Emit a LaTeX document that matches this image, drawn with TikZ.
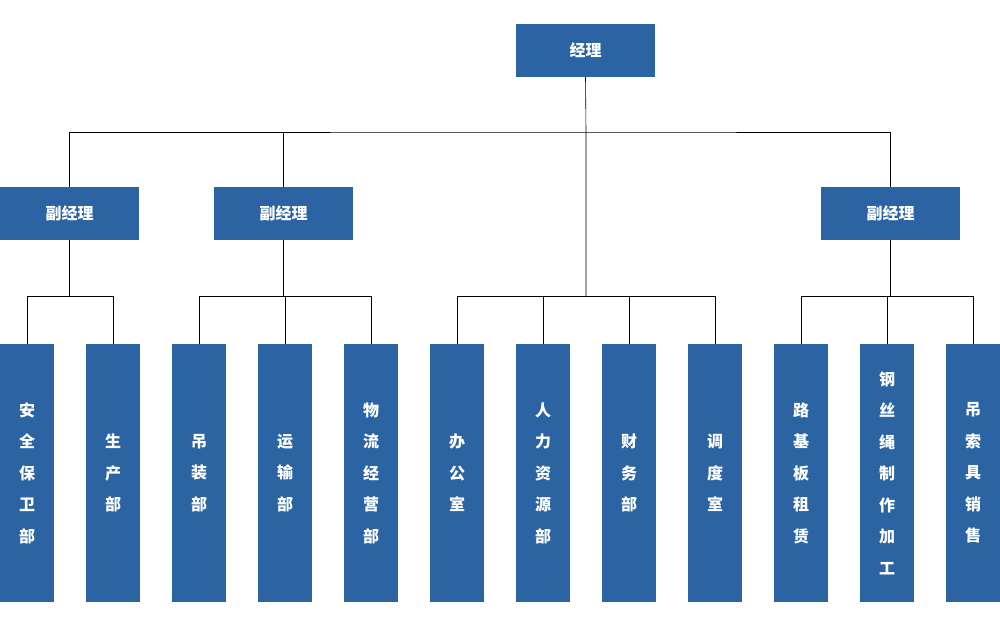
\documentclass[tikz,border=0pt]{standalone}
\usepackage{fontspec}
\newfontfamily\cjk{Noto Sans CJK SC}
\definecolor{boxblue}{HTML}{2B63A3}
\begin{document}
\begin{tikzpicture}[x=1pt,y=-1pt,
  box/.style={fill=boxblue,text=white,font=\cjk\bfseries\fontsize{16}{31.5}\selectfont,inner sep=0pt,align=center},
  head/.style={box,minimum width=139pt,minimum height=53pt},
  col/.style={box,minimum width=54pt,minimum height=258pt},
  ln/.style={draw=black,line width=0.6pt}]
\useasboundingbox (0,0) rectangle (1000,624);
\node[head] (m) at (585.5,50.5) {经理};
\node[head] (d1) at (69.5,213.5) {副经理};
\node[head] (d2) at (283.5,213.5) {副经理};
\node[head] (d3) at (890.5,213.5) {副经理};
\foreach \i/\t in {0/{安\\全\\保\\卫\\部},1/{生\\产\\部},2/{吊\\装\\部},3/{运\\输\\部},4/{物\\流\\经\\营\\部},5/{办\\公\\室},6/{人\\力\\资\\源\\部},7/{财\\务\\部},8/{调\\度\\室},9/{路\\基\\板\\租\\赁},10/{钢\\丝\\绳\\制\\作\\加\\工},11/{吊\\索\\具\\销\\售}}
  \node[col] (c\i) at ({27+86*\i},473) {\t};
\coordinate (t) at (586,132);
\coordinate (b) at (586,296);
\draw[ln] (m.south) -- (t) -- (b);
\draw[ln] (d1.north) |- (t) -| (d3.north);
\draw[ln] (d2.north) -- (d2.north |- t);
\draw[ln] (d1.south) -- (d1.south |- b);
\draw[ln] (d2.south) -- (d2.south |- b);
\draw[ln] (d3.south) -- (d3.south |- b);
\foreach \i in {0,...,11} \draw[ln] (c\i.north) -- (c\i.north |- b);
\draw[ln] (c0.north |- b) -- (c1.north |- b);
\draw[ln] (c2.north |- b) -- (c4.north |- b);
\draw[ln] (c5.north |- b) -- (c8.north |- b);
\draw[ln] (c9.north |- b) -- (c11.north |- b);
\end{tikzpicture}
\end{document}
